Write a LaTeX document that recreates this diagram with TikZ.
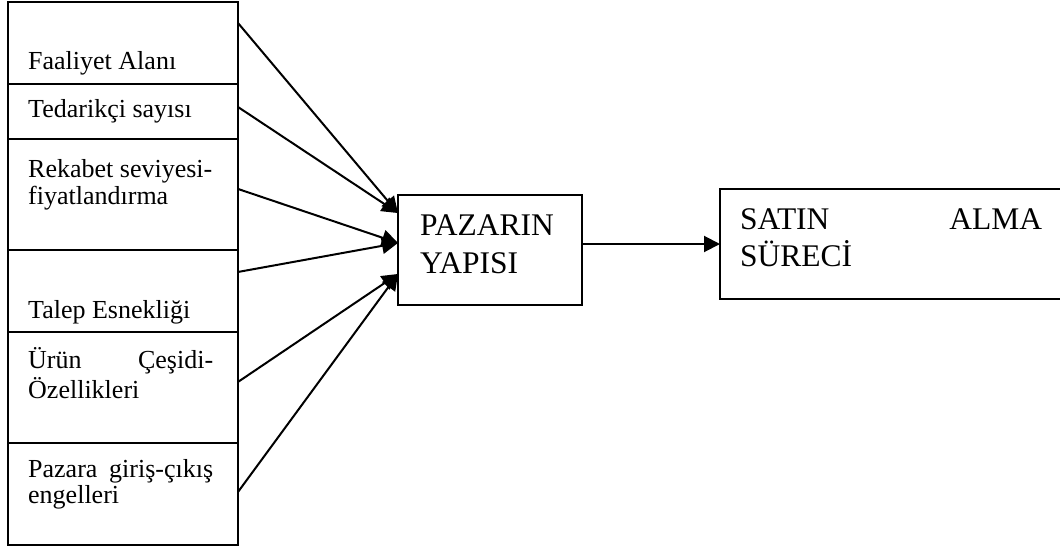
\documentclass[tikz,border=0pt]{standalone}
\usepackage{fontspec}
\setmainfont{Liberation Serif}
\usetikzlibrary{arrows.meta,calc}
\begin{document}
\begin{tikzpicture}[x=1pt,y=-1pt,
  box/.style={draw, line width=2pt, inner sep=0pt, outer sep=0pt, anchor=north west},
  cell/.style={box, minimum width=230pt},
  lbl/.style={anchor=base west, inner sep=0pt, font=\fontsize{26}{27}\selectfont},
  big/.style={anchor=base west, inner sep=0pt, font=\fontsize{31.5}{38}\selectfont},
  feed/.style={line width=2pt, -{Triangle[length=16pt,width=16pt]}},
]
\useasboundingbox (0,0) rectangle (1060,559);
\clip (0,0) rectangle (1060,559);

% factor cells of the left column
\node[cell, minimum height=82pt]  (c1) at (8,2)   {};
\node[cell, minimum height=55pt]  (c2) at (8,84)  {};
\node[cell, minimum height=111pt] (c3) at (8,139) {};
\node[cell, minimum height=82pt]  (c4) at (8,250) {};
\node[cell, minimum height=111pt] (c5) at (8,332) {};
\node[cell, minimum height=102pt] (c6) at (8,443) {};

% cell texts
\node[lbl] (t1)  at (28,70)  {Faaliyet Alanı};
\node[lbl] (t2)  at (28,118) {Tedarikçi sayısı};
\node[lbl] (t3a) at (28,177) {Rekabet seviyesi-};
\node[lbl] (t3b) at (28,204) {fiyatlandırma};
\node[lbl] (t4)  at (28,318) {Talep Esnekliği};
\node[lbl] (t5a) at (28,368) {\makebox[185pt][s]{Ürün Çeşidi-}};
\node[lbl] (t5b) at (28,398) {Özellikleri};
\node[lbl] (t6a) at (28,477) {\makebox[185pt][s]{Pazara giriş-çıkış}};
\node[lbl] (t6b) at (28,503) {engelleri};

% market structure and purchasing process boxes
\node[box, minimum width=184pt, minimum height=110pt] (p) at (398,195) {};
\node[big] (p1) at (420,235) {PAZARIN};
\node[big] (p2) at (420,273) {YAPISI};

\node[box, minimum width=360pt, minimum height=110pt] (s) at (720,189) {};
\node[big] (s1) at (740,229) {\makebox[302pt][s]{SATIN ALMA}};
\node[big] (s2) at (740,266) {SÜRECİ};

% connectors
\draw[feed] ($(c1.north east)!0.256!(c1.south east)$) -- ($(p.north west)!0.164!(p.south west)$);
\draw[feed] ($(c2.north east)!0.418!(c2.south east)$) -- ($(p.north west)!0.164!(p.south west)$);
\draw[feed] ($(c3.north east)!0.45!(c3.south east)$)  -- ($(p.north west)!0.436!(p.south west)$);
\draw[feed] ($(c4.north east)!0.268!(c4.south east)$) -- ($(p.north west)!0.436!(p.south west)$);
\draw[feed] ($(c5.north east)!0.45!(c5.south east)$)  -- ($(p.north west)!0.718!(p.south west)$);
\draw[feed] ($(c6.north east)!0.48!(c6.south east)$)  -- ($(p.north west)!0.718!(p.south west)$);
\draw[feed] (p.east |- s.west) -- (s.west);
\end{tikzpicture}
\end{document}
